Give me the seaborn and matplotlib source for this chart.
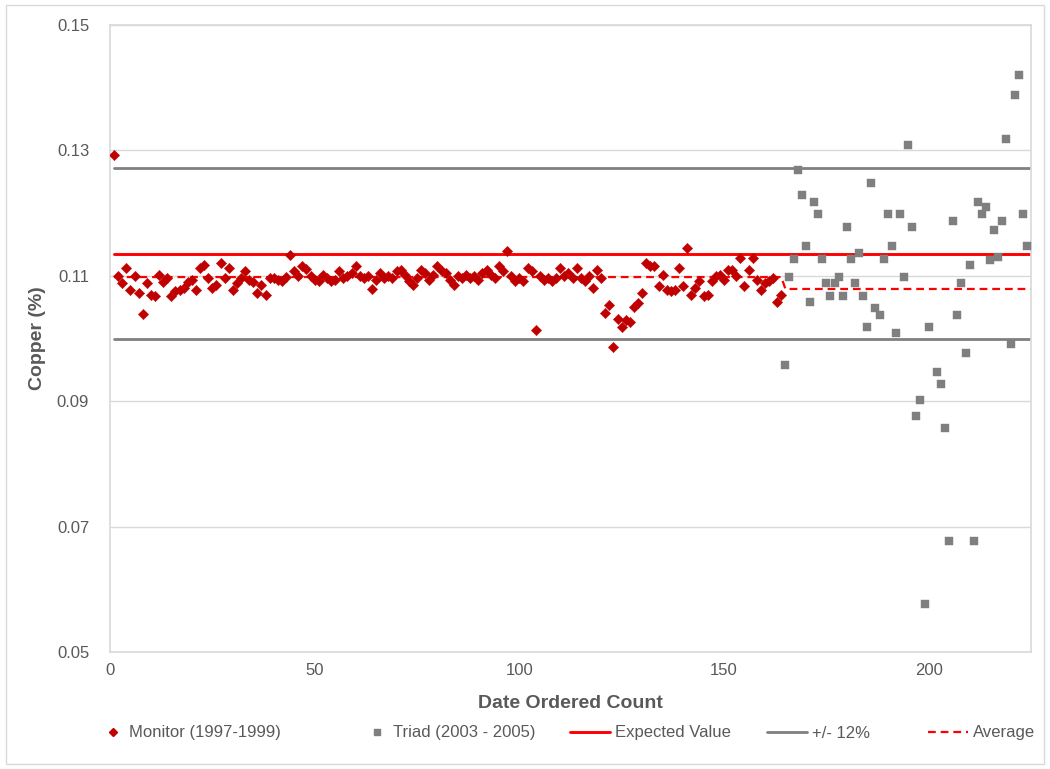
import matplotlib
matplotlib.use("Agg")
import matplotlib.pyplot as plt
from matplotlib.patches import Rectangle
from matplotlib.lines import Line2D
import pandas as pd
import seaborn as sns

# ---- data -------------------------------------------------------------
monitor_x = list(range(1, 165))
monitor_cu = [
    0.1293, 0.1099, 0.1088, 0.1112, 0.1078, 0.1100, 0.1072, 0.1039, 0.1088, 0.1070,
    0.1068, 0.1101, 0.1090, 0.1097, 0.1068, 0.1075, 0.1078, 0.1080, 0.1090, 0.1093,
    0.1077, 0.1113, 0.1117, 0.1097, 0.1080, 0.1085, 0.1120, 0.1097, 0.1112, 0.1078,
    0.1088, 0.1096, 0.1108, 0.1094, 0.1090, 0.1072, 0.1085, 0.1069, 0.1097, 0.1096,
    0.1093, 0.1091, 0.1098, 0.1133, 0.1107, 0.1099, 0.1115, 0.1111, 0.1099, 0.1093,
    0.1091, 0.1101, 0.1097, 0.1091, 0.1093, 0.1108, 0.1096, 0.1099, 0.1104, 0.1115,
    0.1099, 0.1096, 0.1099, 0.1079, 0.1094, 0.1104, 0.1096, 0.1100, 0.1097, 0.1107,
    0.1109, 0.1102, 0.1091, 0.1086, 0.1096, 0.1109, 0.1104, 0.1093, 0.1102, 0.1115,
    0.1107, 0.1104, 0.1093, 0.1085, 0.1099, 0.1096, 0.1101, 0.1096, 0.1099, 0.1093,
    0.1104, 0.1109, 0.1102, 0.1096, 0.1115, 0.1107, 0.1139, 0.1099, 0.1091, 0.1096,
    0.1091, 0.1112, 0.1108, 0.1013, 0.1099, 0.1094, 0.1096, 0.1091, 0.1096, 0.1112,
    0.1099, 0.1104, 0.1097, 0.1112, 0.1096, 0.1091, 0.1099, 0.1081, 0.1109, 0.1096,
    0.1040, 0.1053, 0.0987, 0.1031, 0.1018, 0.1029, 0.1026, 0.1051, 0.1056, 0.1072,
    0.1120, 0.1116, 0.1115, 0.1083, 0.1102, 0.1077, 0.1075, 0.1077, 0.1112, 0.1084,
    0.1145, 0.1069, 0.1080, 0.1091, 0.1067, 0.1070, 0.1091, 0.1099, 0.1102, 0.1093,
    0.1109, 0.1109, 0.1099, 0.1128, 0.1083, 0.1109, 0.1128, 0.1093, 0.1077, 0.1088,
    0.1091, 0.1096, 0.1059, 0.1069,
]

triad_x = [
    165, 166, 167, 168, 169, 170, 171, 172, 173, 174, 175, 176, 177, 178, 179, 180,
    181, 182, 183, 184, 185, 186, 187, 188, 189, 190, 191, 192, 193, 194, 195, 196,
    197, 198, 199, 200, 202, 203, 204, 205, 206, 207, 208, 209, 210, 211, 212, 213,
    214, 215, 216, 217, 218, 219, 220, 221, 222, 223, 224,
]
triad_cu = [
    0.0958, 0.1098, 0.1127, 0.1268, 0.1229, 0.1148, 0.1059, 0.1218, 0.1198, 0.1127,
    0.1088, 0.1068, 0.1088, 0.1098, 0.1068, 0.1178, 0.1127, 0.1088, 0.1137, 0.1068,
    0.1018, 0.1248, 0.1048, 0.1038, 0.1127, 0.1198, 0.1148, 0.1008, 0.1198, 0.1098,
    0.1308, 0.1178, 0.0877, 0.0902, 0.0576, 0.1018, 0.0947, 0.0927, 0.0857, 0.0677,
    0.1188, 0.1038, 0.1088, 0.0977, 0.1118, 0.0677, 0.1218, 0.1198, 0.1209, 0.1125,
    0.1173, 0.1130, 0.1187, 0.1318, 0.0991, 0.1388, 0.1420, 0.1199, 0.1148,
]

expected_value = 0.1135
tolerance = 0.12
average_monitor = 0.1098
average_triad = 0.1079
line_x = [1, 225]
average_x = [1, 164, 165, 225]
average_cu = [average_monitor, average_monitor, average_triad, average_triad]

x_ticks = [0, 50, 100, 150, 200]
y_ticks = [0.05, 0.07, 0.09, 0.11, 0.13, 0.15]
legend_labels = ["Monitor (1997-1999)", "Triad (2003 - 2005)", "Expected Value",
                 "+/- 12%", "Average"]

# ---- styling ----------------------------------------------------------
sns.set_style("white")
plt.rcParams["font.family"] = ["Liberation Sans", "DejaVu Sans"]

RED_DARK = "#C00000"
RED = "#FF0000"
GREY = "#7F7F7F"
LINE_GREY = "#808080"
GRID = "#D9D9D9"
TEXT = "#595959"
DASH = (0, (3.5, 2.2))

W, H = 1050, 769
fig = plt.figure(figsize=(W / 100, H / 100), dpi=100)
ax = fig.add_axes([110 / W, 1 - 652 / H, 921 / W, 627 / H])

# reference lines: expected value and the +/- 12 % band
ref = pd.DataFrame({
    "x": line_x * 3,
    "y": [expected_value] * 2
         + [expected_value * (1 + tolerance)] * 2
         + [expected_value * (1 - tolerance)] * 2,
    "series": ["exp"] * 2 + ["hi"] * 2 + ["lo"] * 2,
})
sns.lineplot(data=ref[ref.series == "exp"], x="x", y="y", color=RED, lw=2.1,
             estimator=None, ax=ax, zorder=2)
for band in ["hi", "lo"]:
    sns.lineplot(data=ref[ref.series == band], x="x", y="y", color=LINE_GREY,
                 lw=2.0, estimator=None, ax=ax, zorder=2)

# period averages
avg = pd.DataFrame({"x": average_x, "y": average_cu})
sns.lineplot(data=avg, x="x", y="y", color=RED, lw=1.6, estimator=None,
             sort=False, ax=ax, zorder=2, linestyle=DASH)

# measurements
mon = pd.DataFrame({"x": monitor_x, "y": monitor_cu})
tri = pd.DataFrame({"x": triad_x, "y": triad_cu})
sns.scatterplot(data=mon, x="x", y="y", marker="D", s=28, color=RED_DARK,
                edgecolor=RED_DARK, linewidth=0.3, ax=ax, zorder=3)
sns.scatterplot(data=tri, x="x", y="y", marker="s", s=36, color=GREY,
                edgecolor=GREY, linewidth=0.3, ax=ax, zorder=3)

# axes
ax.set_xlim(0, 225)
ax.set_ylim(0.05, 0.15)
ax.set_xticks(x_ticks)
ax.set_yticks(y_ticks)
ax.set_yticklabels([f"{v:.2f}" for v in y_ticks])
ax.yaxis.grid(True, color=GRID, lw=1.0)
ax.xaxis.grid(False)
ax.set_axisbelow(True)
for side in ["left", "right", "bottom", "top"]:
    ax.spines[side].set_visible(True)
    ax.spines[side].set_color(GRID)
    ax.spines[side].set_linewidth(1.2)
ax.tick_params(axis="both", length=0, labelsize=12, labelcolor=TEXT)
ax.tick_params(axis="y", pad=15)
ax.tick_params(axis="x", pad=8)
ax.set_xlabel("Date Ordered Count", fontsize=14, fontweight="bold", color=TEXT,
              labelpad=12)
ax.set_ylabel("Copper (%)", fontsize=14, fontweight="bold", color=TEXT, labelpad=8)

# legend: one entry per slot along the bottom
handles = [
    Line2D([], [], marker="D", ls="none", color=RED_DARK, markersize=4.5),
    Line2D([], [], marker="s", ls="none", color=GREY, markersize=4.5),
    Line2D([], [], color=RED, lw=2.1),
    Line2D([], [], color=LINE_GREY, lw=2.0),
    Line2D([], [], color=RED, lw=1.6, linestyle=DASH),
]
slot_left = [101, 365, 570, 767, 928]
slot_handle = [1.4, 1.4, 2.4, 2.4, 2.4]
for h, lab, left, hl in zip(handles, legend_labels, slot_left, slot_handle):
    fig.legend([h], [lab], loc="center left", bbox_to_anchor=(left / W, 1 - 733 / H),
               frameon=False, fontsize=12, labelcolor=TEXT, handlelength=hl,
               handletextpad=0.3, borderpad=0, borderaxespad=0)

# outer chart border
fig.patches.append(Rectangle((0.006, 0.007), 0.988, 0.986, transform=fig.transFigure,
                             fill=False, edgecolor=GRID, lw=1.0))

fig.savefig("out.png", dpi=100)
